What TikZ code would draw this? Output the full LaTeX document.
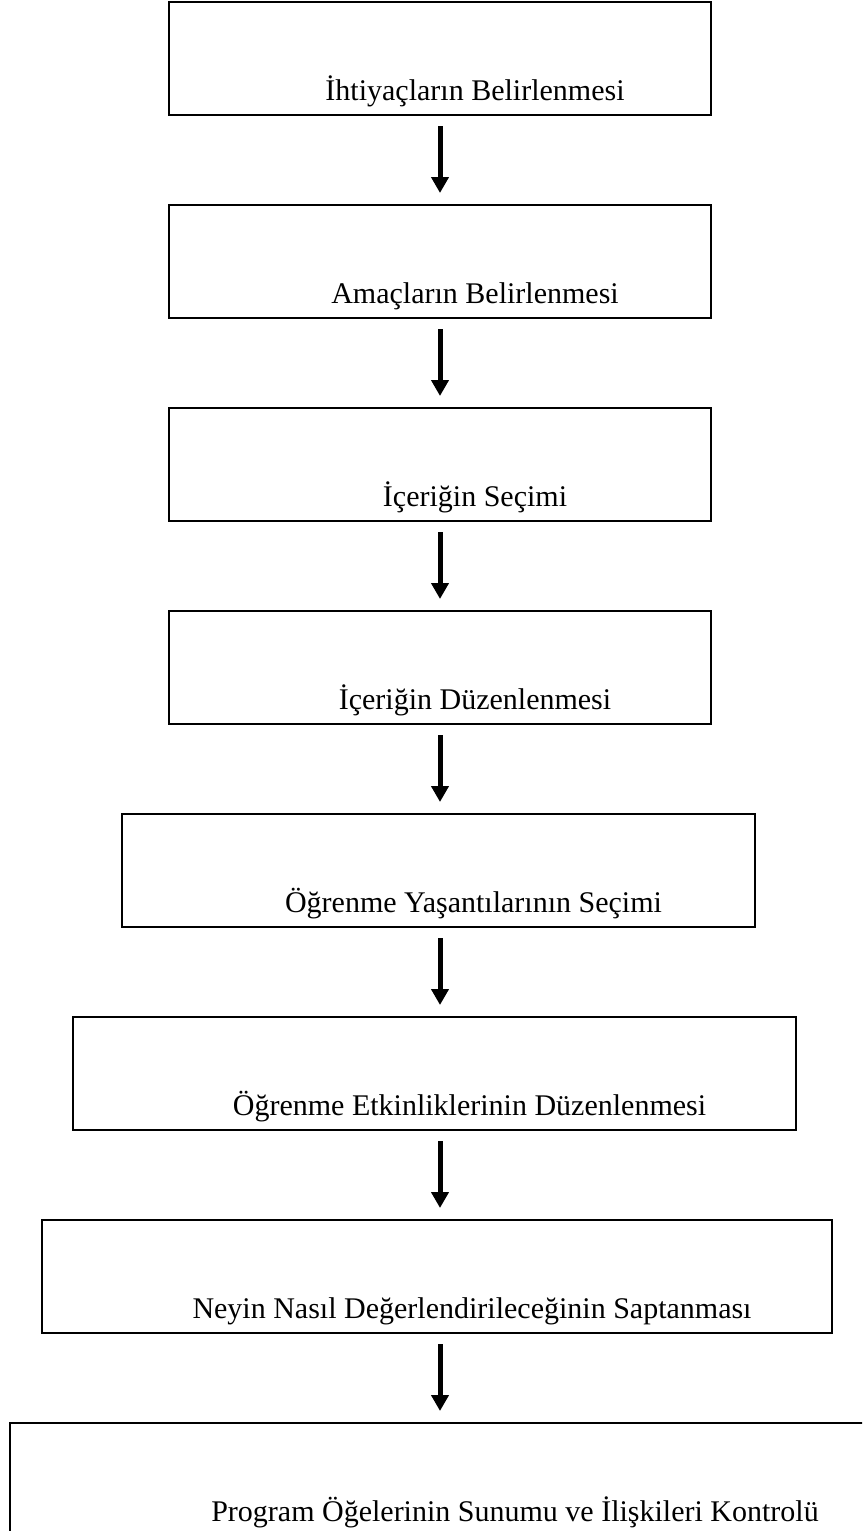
\documentclass[tikz,border=0pt]{standalone}
\usepackage{fontspec}
\setmainfont{Liberation Serif}
\usetikzlibrary{arrows.meta}

\tikzset{
  boxnode/.style={draw,line width=1.8pt,inner sep=0pt,outer sep=0pt,minimum height=113pt},
  lbl/.style={anchor=base,inner sep=0pt,font=\fontsize{30}{36}\selectfont},
  flowarrow/.style={-{Triangle[width=17pt,length=16pt]},line width=5pt,shorten <=11pt,shorten >=12pt}
}

\begin{document}
\begin{tikzpicture}[x=1pt,y=-1pt]
    % Page frame
    \useasboundingbox (0,0) rectangle (862,1531);
    \clip (0,0) rectangle (862,1531);

    % Column of the arrows
    \coordinate (ax) at (440,0);

    % Draw the boxes
    \node[boxnode,minimum width=542pt] (b1) at (440,58.5) {};
    \node[boxnode,minimum width=542pt] (b2) at (440,261.5) {};
    \node[boxnode,minimum width=542pt] (b3) at (440,464.5) {};
    \node[boxnode,minimum width=542pt] (b4) at (440,667.5) {};
    \node[boxnode,minimum width=633pt] (b5) at (438.5,870.5) {};
    \node[boxnode,minimum width=723pt] (b6) at (434.5,1073.5) {};
    \node[boxnode,minimum width=790pt] (b7) at (437,1276.5) {};
    \node[boxnode,minimum width=940pt] (b8) at (480,1479.5) {};

    % Add labels
    \node[lbl,xshift=35pt,yshift=15pt] (t1) at (b1.south) {İhtiyaçların Belirlenmesi};
    \node[lbl,xshift=35pt,yshift=15pt] (t2) at (b2.south) {Amaçların Belirlenmesi};
    \node[lbl,xshift=35pt,yshift=15pt] (t3) at (b3.south) {İçeriğin Seçimi};
    \node[lbl,xshift=35pt,yshift=15pt] (t4) at (b4.south) {İçeriğin Düzenlenmesi};
    \node[lbl,xshift=35pt,yshift=15pt] (t5) at (b5.south) {Öğrenme Yaşantılarının Seçimi};
    \node[lbl,xshift=35pt,yshift=15pt] (t6) at (b6.south) {Öğrenme Etkinliklerinin Düzenlenmesi};
    \node[lbl,xshift=35pt,yshift=15pt] (t7) at (b7.south) {Neyin Nasıl Değerlendirileceğinin Saptanması};
    \node[lbl,xshift=35pt,yshift=15pt] (t8) at (b8.south) {Program Öğelerinin Sunumu ve İlişkileri Kontrolü};

    % Draw flow arrows
    \foreach \a/\b in {b1/b2,b2/b3,b3/b4,b4/b5,b5/b6,b6/b7,b7/b8}
        \draw[flowarrow] (\a.south -| ax) -- (\b.north -| ax);
\end{tikzpicture}
\end{document}
